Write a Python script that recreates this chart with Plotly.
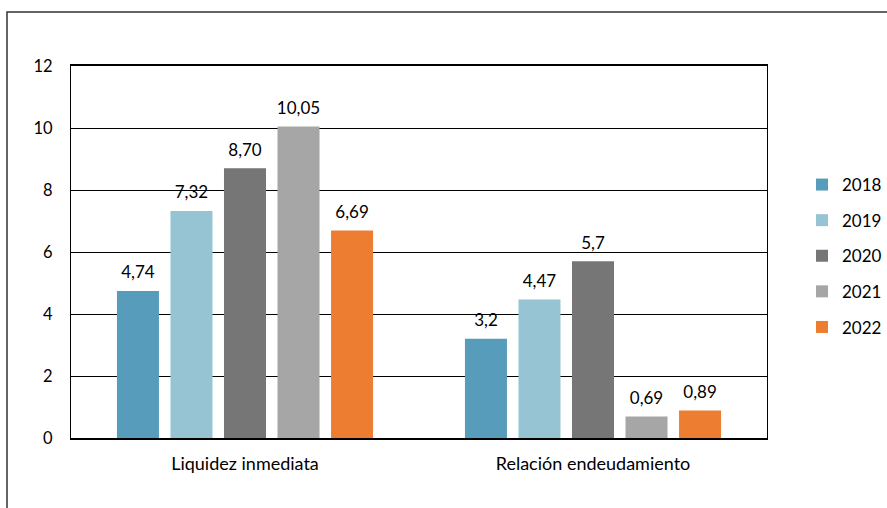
import plotly.graph_objects as go

categories = ["Liquidez inmediata", "Relación endeudamiento"]
years = ["2018", "2019", "2020", "2021", "2022"]
values = {
    "2018": [4.74, 3.2],
    "2019": [7.32, 4.47],
    "2020": [8.70, 5.7],
    "2021": [10.05, 0.69],
    "2022": [6.69, 0.89],
}
labels = {
    "2018": ["4,74", "3,2"],
    "2019": ["7,32", "4,47"],
    "2020": ["8,70", "5,7"],
    "2021": ["10,05", "0,69"],
    "2022": ["6,69", "0,89"],
}
colors = {
    "2018": "#579CBB",
    "2019": "#97C4D3",
    "2020": "#767676",
    "2021": "#A6A6A6",
    "2022": "#ED7D31",
}
y_ticks = [0, 2, 4, 6, 8, 10, 12]

FONT = "Lato, Carlito, Calibri, sans-serif"

fig = go.Figure()
for yr in years:
    fig.add_trace(go.Bar(
        x=categories, y=values[yr], name=yr,
        marker=dict(color=colors[yr], line=dict(width=0)),
        legendgroup=yr, offsetgroup=yr, hoverinfo="skip",
    ))
for yr in years:
    fig.add_trace(go.Scatter(
        x=categories, y=values[yr], mode="markers+text",
        text=labels[yr], textposition="top center",
        textfont=dict(size=17, color="#000000", family=FONT),
        marker=dict(size=12, opacity=0, color=colors[yr]),
        showlegend=False, offsetgroup=yr, cliponaxis=False, hoverinfo="skip",
    ))

W, H = 887, 508
L, R, T, B = 71, 120, 66, 70
pw, ph = W - L - R, H - T - B

def px_x(x):
    return (x - L) / pw

def px_y(y):
    return (H - B - y) / ph

fig.update_layout(
    width=W, height=H,
    margin=dict(l=L, r=R, t=T, b=B, autoexpand=False),
    paper_bgcolor="white", plot_bgcolor="white",
    font=dict(family=FONT, size=17, color="#000000"),
    barmode="group", bargap=0.231, bargroupgap=0.215,
    scattermode="group", scattergap=0.231,
    showlegend=True,
    legend=dict(x=px_x(802), y=px_y(167), xanchor="left", yanchor="top",
                font=dict(size=17, family=FONT), tracegroupgap=10.5,
                itemwidth=30, bgcolor="rgba(0,0,0,0)"),
    shapes=[dict(type="rect", xref="paper", yref="paper",
                 x0=px_x(7), x1=px_x(W + 20), y0=px_y(12), y1=px_y(H + 20),
                 line=dict(color="#333333", width=1.5), layer="below")],
)
fig.update_yaxes(range=[0, 12], tickvals=y_ticks, ticktext=[str(v) for v in y_ticks],
                 showgrid=True, gridcolor="#000000", gridwidth=1,
                 showline=True, linecolor="#000000", linewidth=1, mirror=True,
                 ticks="", ticklabelstandoff=14, zeroline=False,
                 tickfont=dict(size=16.5, family=FONT))
fig.update_xaxes(showline=True, linecolor="#000000", linewidth=1.5, mirror=True,
                 ticks="", ticklabelstandoff=9,
                 tickfont=dict(size=18, family=FONT))

fig.write_html("out.html", config={"displayModeBar": False},
               post_script="document.body.style.margin='0';document.body.style.overflow='hidden';")
